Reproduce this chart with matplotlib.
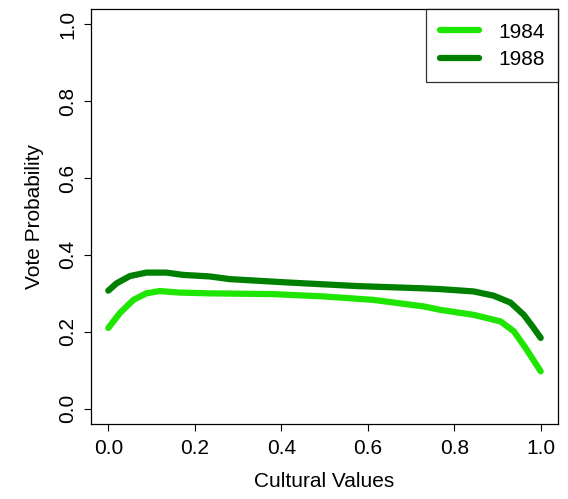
import numpy as np
import matplotlib.pyplot as plt

plt.rcParams['font.family'] = ['Liberation Sans', 'DejaVu Sans']

# values
x_1984 = [0.0, 0.027, 0.058, 0.088, 0.119, 0.165, 0.235, 0.382, 0.498, 0.613, 0.729,
          0.768, 0.845, 0.907, 0.938, 0.965, 0.985, 1.0]
y_1984 = [0.210, 0.249, 0.283, 0.300, 0.306, 0.302, 0.300, 0.298, 0.292, 0.283, 0.266,
          0.257, 0.244, 0.227, 0.201, 0.158, 0.123, 0.097]

x_1988 = [0.0, 0.019, 0.050, 0.088, 0.134, 0.173, 0.235, 0.281, 0.420, 0.575, 0.729,
          0.768, 0.845, 0.891, 0.930, 0.961, 0.981, 1.0]
y_1988 = [0.307, 0.326, 0.345, 0.354, 0.354, 0.348, 0.344, 0.337, 0.328, 0.319, 0.313,
          0.311, 0.305, 0.294, 0.276, 0.244, 0.214, 0.184]

ticks = [0.0, 0.2, 0.4, 0.6, 0.8, 1.0]
tick_labels = ['0.0', '0.2', '0.4', '0.6', '0.8', '1.0']

fig = plt.figure(figsize=(5.68, 4.99), dpi=100)
ax = fig.add_axes([91/568, 75/499, 467/568, 415/499])

ax.plot(x_1984, y_1984, color='#1ee600', lw=4.5, solid_capstyle='round',
        solid_joinstyle='round', label='1984')
ax.plot(x_1988, y_1988, color='#008000', lw=4.5, solid_capstyle='round',
        solid_joinstyle='round', label='1988')

ax.set_xlim(-0.04, 1.04)
ax.set_ylim(-0.04, 1.04)
ax.set_xticks(ticks)
ax.set_xticklabels(tick_labels)
ax.set_yticks(ticks)
ax.set_yticklabels(tick_labels, rotation=90, va='center')
ax.tick_params(direction='out', length=5, width=0.8, labelsize=15, pad=6)
ax.tick_params(axis='y', pad=5)
for s in ax.spines.values():
    s.set_linewidth(0.9)

ax.set_xlabel('Cultural Values', fontsize=15, labelpad=10)
ax.set_ylabel('Vote Probability', fontsize=15, labelpad=10)

leg = ax.legend(loc='upper right', fontsize=15, frameon=True, fancybox=False,
                edgecolor='black', borderaxespad=0, borderpad=0.65,
                handlelength=1.9, handletextpad=0.9, labelspacing=0.4)
leg.get_frame().set_linewidth(0.9)

plt.savefig('out.png', dpi=100)
